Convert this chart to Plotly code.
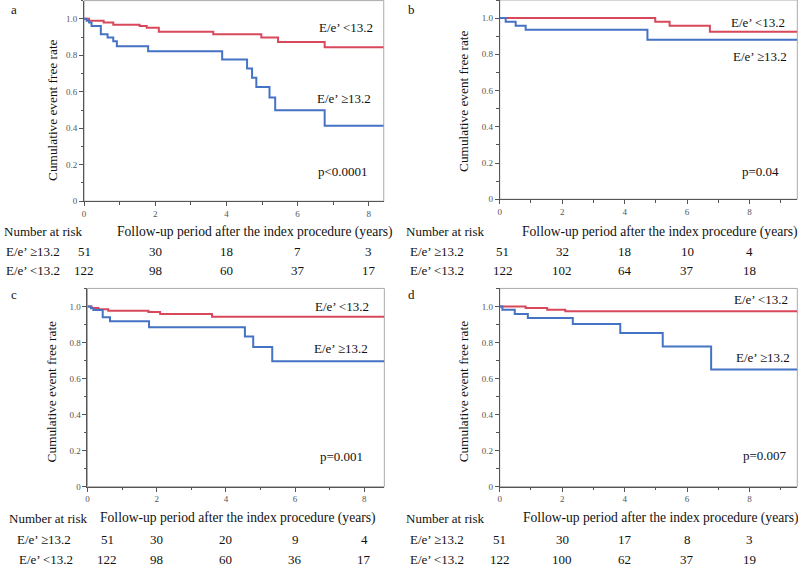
import plotly.graph_objects as go

W, H = 798, 567
FONT = "Liberation Serif"
RED = "#d8485a"
BLUE = "#4472c4"

# ---- survival curves (time in years, event free rate) ----
a_low_t = [0, 0.14, 0.55, 0.82, 1.56, 1.76, 2.10, 3.63, 4.98, 5.45, 6.76, 8.42]
a_low_s = [1.0, 0.99, 0.98, 0.967, 0.96, 0.951, 0.929, 0.916, 0.898, 0.873, 0.844, 0.844]
a_high_t = [0, 0.07, 0.14, 0.21, 0.47, 0.66, 0.82, 0.92, 1.80, 3.88, 4.58, 4.72, 4.84, 5.21, 5.37, 6.76, 8.42]
a_high_s = [1.0, 0.99, 0.98, 0.96, 0.916, 0.898, 0.877, 0.849, 0.822, 0.777, 0.728, 0.677, 0.626, 0.568, 0.499, 0.414, 0.414]

b_low_t = [0, 4.98, 5.44, 6.73, 9.53]
b_low_s = [1.0, 0.98, 0.958, 0.925, 0.925]
b_high_t = [0, 0.19, 0.51, 0.83, 4.73, 9.53]
b_high_s = [1.0, 0.98, 0.958, 0.936, 0.88, 0.88]

c_low_t = [0, 0.12, 0.32, 0.60, 1.76, 2.10, 3.60, 8.58]
c_low_s = [1.0, 0.991, 0.985, 0.976, 0.969, 0.958, 0.943, 0.943]
c_high_t = [0, 0.10, 0.17, 0.44, 0.65, 1.78, 4.55, 4.79, 5.34, 8.58]
c_high_s = [1.0, 0.99, 0.98, 0.94, 0.918, 0.885, 0.833, 0.775, 0.696, 0.696]

d_low_t = [0, 0.83, 1.52, 2.10, 9.53]
d_low_s = [1.0, 0.991, 0.982, 0.973, 0.973]
d_high_t = [0, 0.085, 0.48, 0.90, 2.34, 3.86, 5.22, 6.77, 9.53]
d_high_s = [1.0, 0.982, 0.958, 0.936, 0.903, 0.852, 0.778, 0.65, 0.65]

# ---- number at risk ----
risk_t = [0, 2, 4, 6, 8]
a_risk_high = [51, 30, 18, 7, 3]
a_risk_low = [122, 98, 60, 37, 17]
b_risk_high = [51, 32, 18, 10, 4]
b_risk_low = [122, 102, 64, 37, 18]
c_risk_high = [51, 30, 20, 9, 4]
c_risk_low = [122, 98, 60, 36, 17]
d_risk_high = [51, 30, 17, 8, 3]
d_risk_low = [122, 100, 62, 37, 19]

p_values = ["p<0.0001", "p=0.04", "p=0.001", "p=0.007"]
lab_low = "E/e’ <13.2"
lab_high = "E/e’ ≥13.2"
x_ticks = [0, 2, 4, 6, 8]
y_ticks = [0, 0.2, 0.4, 0.6, 0.8, 1.0]
y_ticktext = ["0", "0.2", "0.4", "0.6", "0.8", "1.0"]


def px(x):
    return x / W


def py(y):
    return 1 - y / H


panels = [
    dict(name="a", low=(a_low_t, a_low_s), high=(a_high_t, a_high_s),
         risk=(a_risk_high, a_risk_low), xmax=8.42,
         dom=(82.3, 382.7, 0.6, 203), letter=(7, 10), ytitle=(50, 111),
         lab_low=(345, 28), lab_high=(343, 99), pv=(342, 173),
         rows=(234, 254, 273), head_x=0, lab_x=(2, 2), fu_x=254, shift0=0),
    dict(name="b", low=(b_low_t, b_low_s), high=(b_high_t, b_high_s),
         risk=(b_risk_high, b_risk_low), xmax=9.53,
         dom=(499, 797.3, 0, 201), letter=(405, 10), ytitle=(462, 102),
         lab_low=(758, 23), lab_high=(760, 57), pv=(760, 173),
         rows=(234, 254, 273), head_x=403, lab_x=(407, 407), fu_x=660, shift0=3),
    dict(name="c", low=(c_low_t, c_low_s), high=(c_high_t, c_high_s),
         risk=(c_risk_high, c_risk_low), xmax=8.58,
         dom=(85.7, 383.3, 291, 491), letter=(7, 297), ytitle=(50, 395),
         lab_low=(341, 309), lab_high=(340, 352), pv=(340, 461),
         rows=(523, 544, 564), head_x=5, lab_x=(13, 15), fu_x=237, shift0=20),
    dict(name="d", low=(d_low_t, d_low_s), high=(d_high_t, d_high_s),
         risk=(d_risk_high, d_risk_low), xmax=9.53,
         dom=(499, 797.3, 291, 491), letter=(405, 297), ytitle=(463, 395),
         lab_low=(761, 302), lab_high=(763, 361), pv=(765, 460),
         rows=(523, 544, 564), head_x=403, lab_x=(407, 407), fu_x=661, shift0=0),
]

fig = go.Figure()
ann = []
shapes = []
axis_common = dict(showline=True, linecolor="#555", linewidth=1, ticks="outside",
                   ticklen=4, tickcolor="#555", showgrid=False, zeroline=False,
                   tickfont=dict(family=FONT, size=9, color="#555"))


def txt(t, x, y, size=13, xanchor="center", angle=0):
    return dict(text=t, x=px(x), y=py(y), xref="paper", yref="paper",
                xanchor=xanchor, yanchor="middle", showarrow=False,
                textangle=angle, font=dict(family=FONT, size=size, color="#111"))


for i, p in enumerate(panels):
    n = i + 1
    xa = "x" if n == 1 else f"x{n}"
    ya = "y" if n == 1 else f"y{n}"
    x0, x1, y0, y1 = p["dom"]

    fig.add_trace(go.Scatter(x=p["low"][0], y=p["low"][1], mode="lines", line_shape="hv",
                             line=dict(color=RED, width=2), xaxis=xa, yaxis=ya,
                             showlegend=False, hoverinfo="skip"))
    fig.add_trace(go.Scatter(x=p["high"][0], y=p["high"][1], mode="lines", line_shape="hv",
                             line=dict(color=BLUE, width=2), xaxis=xa, yaxis=ya,
                             showlegend=False, hoverinfo="skip"))

    fig.layout[f"xaxis{'' if n == 1 else n}"] = dict(
        axis_common, domain=[px(x0), px(x1)], range=[0, p["xmax"]], anchor=ya,
        tickvals=x_ticks,
        minor=dict(dtick=1, tick0=0, ticks="outside", ticklen=2.5, tickcolor="#555"))
    fig.layout[f"yaxis{'' if n == 1 else n}"] = dict(
        axis_common, domain=[py(y1), py(y0)], range=[0, 1.1], anchor=xa,
        tickvals=y_ticks, ticktext=y_ticktext,
        minor=dict(dtick=0.1, tick0=0, ticks="outside", ticklen=2.5, tickcolor="#555"))

    # light frame on top/right
    shapes.append(dict(type="rect", xref=f"{xa} domain", yref=f"{ya} domain",
                       x0=0, x1=1, y0=0, y1=1, line=dict(color="#aaa", width=1),
                       layer="below"))

    ann.append(txt(p["name"], p["letter"][0], p["letter"][1], xanchor="left"))
    ann.append(txt("Cumulative event free rate", p["ytitle"][0], p["ytitle"][1],
                   size=13.3, angle=-90))
    ann.append(txt(lab_low, *p["lab_low"]))
    ann.append(txt(lab_high, *p["lab_high"]))
    ann.append(txt(p_values[i], *p["pv"]))

    hy, r1, r2 = p["rows"]
    ann.append(txt("Number at risk", p["head_x"], hy, xanchor="left"))
    ann.append(txt("Follow-up period after the index procedure (years)", p["fu_x"], hy, size=13.6))
    ann.append(txt(lab_high, p["lab_x"][0], r1, xanchor="left"))
    ann.append(txt(lab_low, p["lab_x"][1], r2, xanchor="left"))
    for row_y, vals in ((r1, p["risk"][0]), (r2, p["risk"][1])):
        for k, (t, v) in enumerate(zip(risk_t, vals)):
            ann.append(dict(text=str(v), x=t, y=py(row_y), xref=xa, yref="paper",
                            xanchor="center", yanchor="middle", showarrow=False,
                            xshift=p["shift0"] if k == 0 else 0,
                            font=dict(family=FONT, size=13, color="#111")))

fig.update_layout(width=W, height=H, margin=dict(l=0, r=0, t=0, b=0),
                  paper_bgcolor="white", plot_bgcolor="white",
                  annotations=ann, shapes=shapes)

fig.write_html("out.html", config={"displayModeBar": False},
               post_script="document.body.style.margin='0px';document.body.style.overflow='hidden';")
